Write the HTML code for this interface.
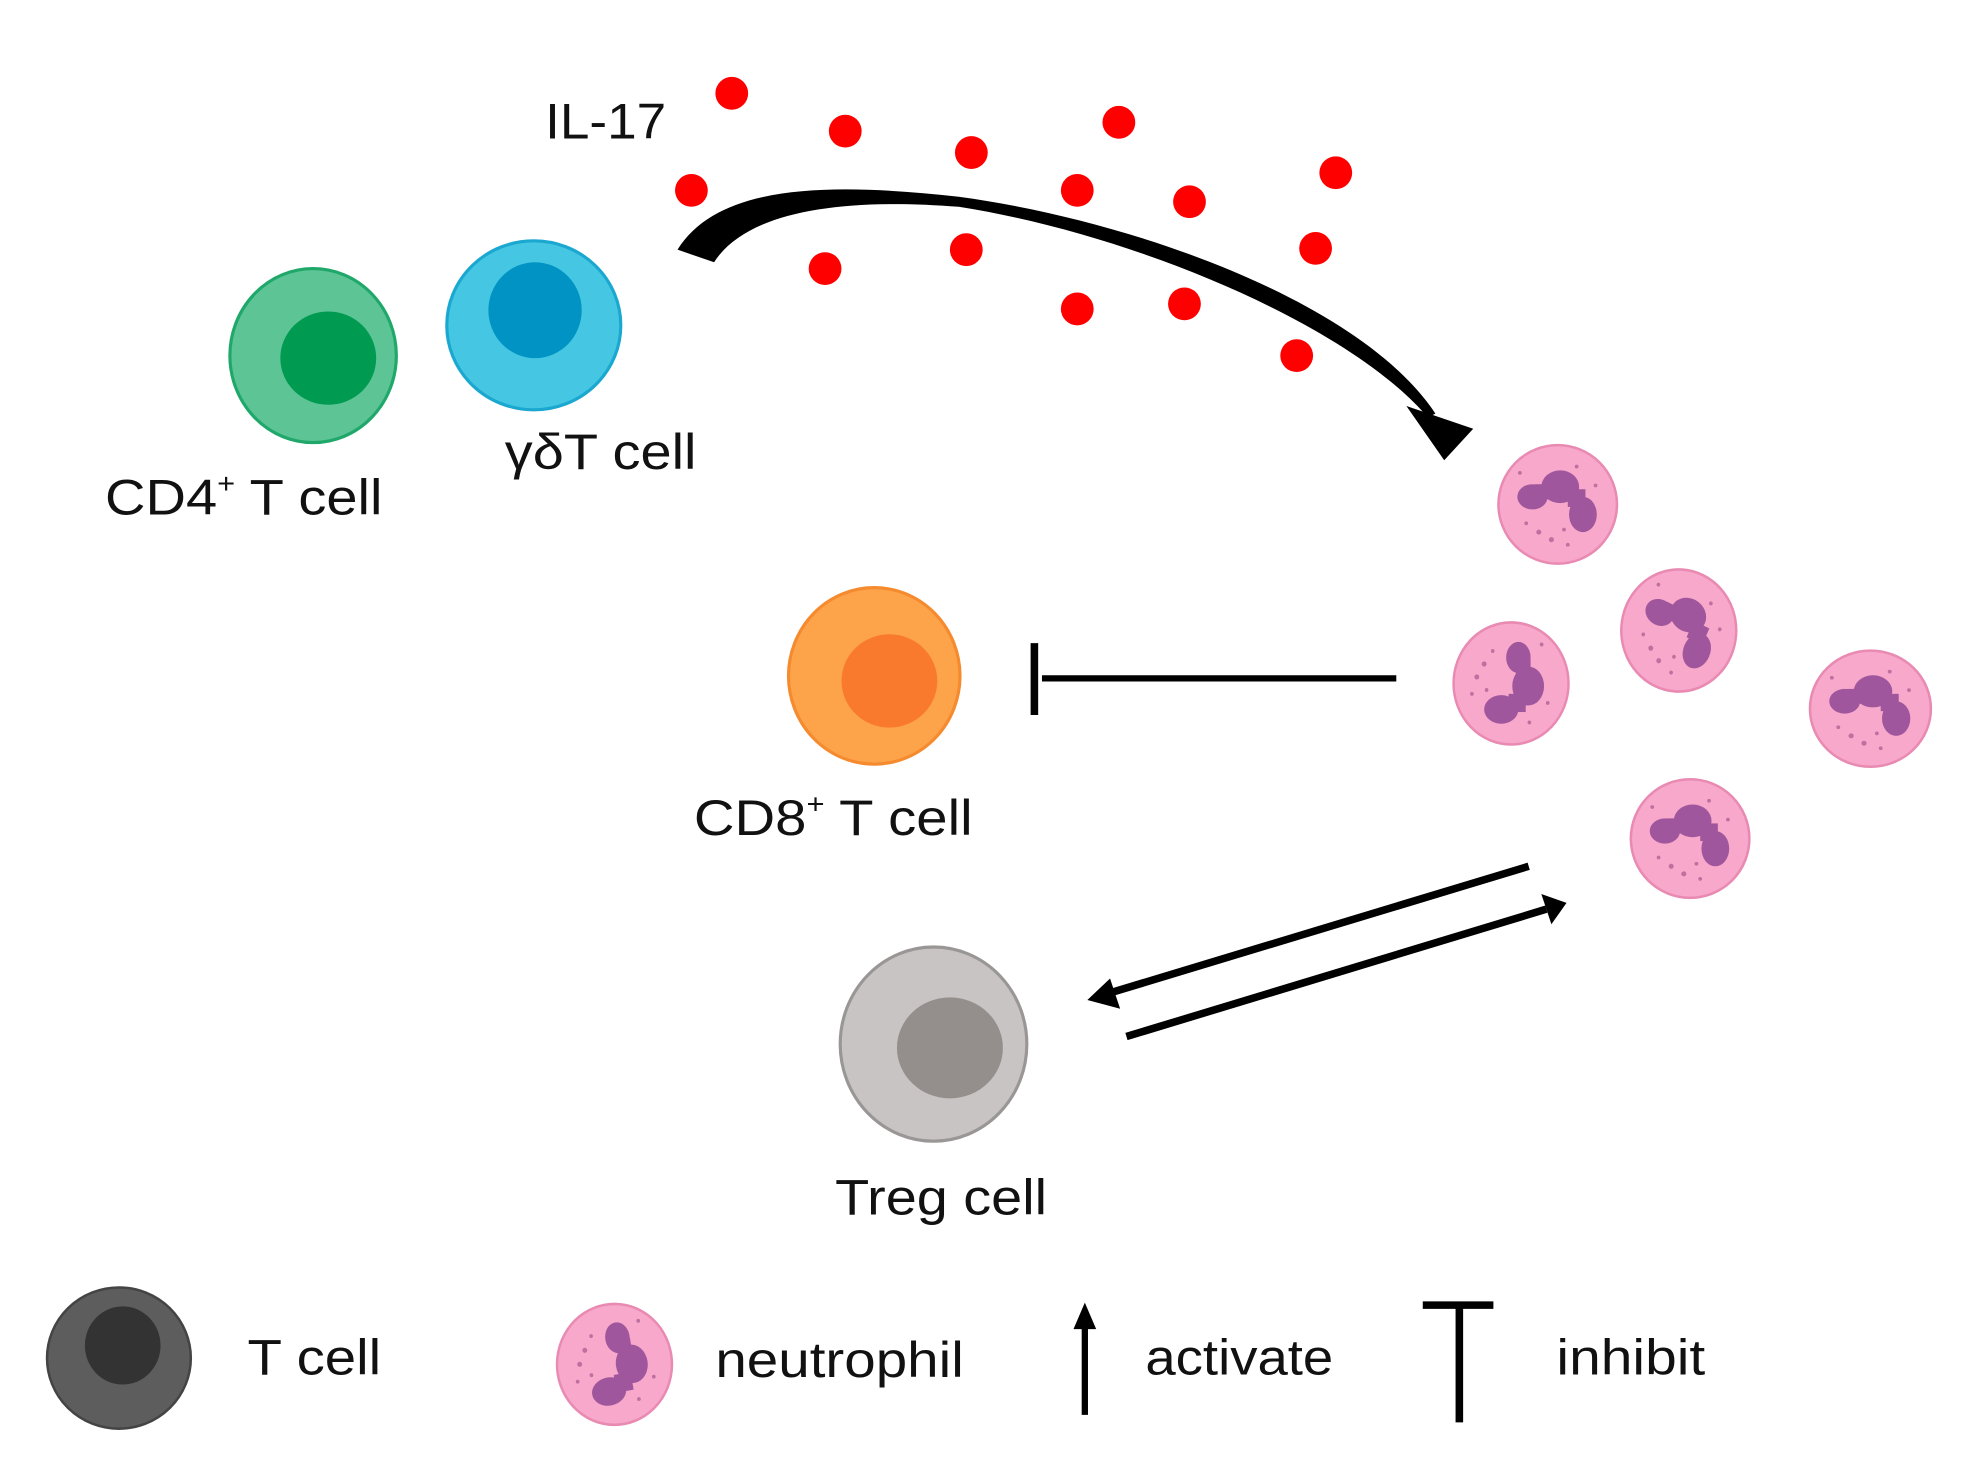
<!DOCTYPE html>
<html><head><meta charset="utf-8"><style>
html,body{margin:0;padding:0;background:#fff;}
svg{display:block;}
text{font-family:"Liberation Sans",sans-serif;fill:#111;}
</style></head><body>
<svg width="1978" height="1464" viewBox="0 0 1568 1161" xmlns="http://www.w3.org/2000/svg">
<defs>
<g id="neu">
<ellipse cx="0" cy="0" rx="47" ry="47" fill="#f7a8cb" stroke="#e98ab2" stroke-width="2"/>
<g fill="#a0569c">
<ellipse cx="-20" cy="-6" rx="12" ry="10"/>
<ellipse cx="2" cy="-14" rx="15" ry="13"/>
<ellipse cx="20" cy="8" rx="11" ry="14"/>
<rect x="-18" y="-16" width="26" height="12"/>
<rect x="8" y="-12" width="14" height="14"/>
</g>
<g fill="#c0709f">
<circle cx="-15" cy="22" r="2"/><circle cx="-5" cy="28" r="2"/><circle cx="5" cy="20" r="1.5"/><circle cx="-25" cy="15" r="1.5"/><circle cx="15" cy="-30" r="1.5"/><circle cx="-30" cy="-25" r="1.5"/><circle cx="30" cy="-15" r="1.5"/><circle cx="8" cy="32" r="1.5"/>
</g>
</g>
</defs>

<ellipse cx="248" cy="282" rx="66" ry="69" fill="#5cc495" stroke="#1fa86a" stroke-width="2.5"/>
<ellipse cx="260" cy="284" rx="38" ry="37" fill="#009a50"/>
<text x="83" y="408" font-size="40" textLength="220" lengthAdjust="spacingAndGlyphs">CD4<tspan font-size="22" dy="-17">+</tspan><tspan dy="17"> T cell</tspan></text>

<ellipse cx="423" cy="258" rx="69" ry="67" fill="#45c6e2" stroke="#1aa8d0" stroke-width="2.5"/>
<ellipse cx="424" cy="246" rx="37" ry="38" fill="#0093c4"/>
<text x="400" y="372" font-size="40" textLength="152" lengthAdjust="spacingAndGlyphs">γδT cell</text>

<text x="432" y="110" font-size="40" textLength="96" lengthAdjust="spacingAndGlyphs">IL-17</text>

<g fill="#ff0000">
<circle cx="580" cy="74" r="13"/><circle cx="670" cy="104" r="13"/><circle cx="770" cy="121" r="13"/><circle cx="887" cy="97" r="13"/>
<circle cx="548" cy="151" r="13"/><circle cx="854" cy="151" r="13"/><circle cx="943" cy="160" r="13"/><circle cx="1059" cy="137" r="13"/>
<circle cx="654" cy="213" r="13"/><circle cx="766" cy="198" r="13"/><circle cx="1043" cy="197" r="13"/>
<circle cx="854" cy="245" r="13"/><circle cx="939" cy="241" r="13"/><circle cx="1028" cy="282" r="13"/>
</g>

<path d="M537,198 C570,145 660,145 760,156 C900,175 1080,240 1138,328 L1132,331 C1070,258 900,186 760,164 C660,156 590,170 566,208 Z" fill="#000"/>
<polygon points="1115,322 1168,340 1145,365" fill="#000"/>

<ellipse cx="693" cy="536" rx="68" ry="70" fill="#fda44b" stroke="#f58a2e" stroke-width="2.5"/>
<ellipse cx="705" cy="540" rx="38" ry="37" fill="#f97a2d"/>
<text x="550" y="662" font-size="40" textLength="221" lengthAdjust="spacingAndGlyphs">CD8<tspan font-size="22" dy="-17">+</tspan><tspan dy="17"> T cell</tspan></text>

<line x1="826" y1="538" x2="1107" y2="538" stroke="#000" stroke-width="5"/>
<line x1="820" y1="510" x2="820" y2="567" stroke="#000" stroke-width="6"/>

<use href="#neu" transform="translate(1235,400)"/>
<use href="#neu" transform="translate(1198,542) scale(0.97,1.03) rotate(90)"/>
<use href="#neu" transform="translate(1331,500) scale(0.97,1.03) rotate(25)"/>
<use href="#neu" transform="translate(1483,562) scale(1.02,0.98)"/>
<use href="#neu" transform="translate(1340,665)"/>

<ellipse cx="740" cy="828" rx="74" ry="77" fill="#c8c4c3" stroke="#9a9696" stroke-width="2.5"/>
<ellipse cx="753" cy="831" rx="42" ry="40" fill="#948f8d"/>
<text x="662" y="963" font-size="40" textLength="168" lengthAdjust="spacingAndGlyphs">Treg cell</text>

<line x1="1212" y1="687" x2="878" y2="788" stroke="#000" stroke-width="6"/>
<polygon points="862,793 880,776 888,800" fill="#000"/>
<line x1="893" y1="822" x2="1226" y2="721" stroke="#000" stroke-width="6"/>
<polygon points="1242,716 1222,709 1230,733" fill="#000"/>

<ellipse cx="94" cy="1077" rx="57" ry="56" fill="#5d5d5d" stroke="#444" stroke-width="2"/>
<ellipse cx="97" cy="1067" rx="30" ry="31" fill="#333"/>
<text x="196" y="1090" font-size="40" textLength="106" lengthAdjust="spacingAndGlyphs">T cell</text>
<use href="#neu" transform="translate(487,1082) scale(0.97,1.02) rotate(80)"/>
<text x="567" y="1092" font-size="40" textLength="197" lengthAdjust="spacingAndGlyphs">neutrophil</text>
<line x1="860" y1="1122" x2="860" y2="1050" stroke="#000" stroke-width="5"/>
<polygon points="860,1033 851,1054 869,1054" fill="#000"/>
<text x="908" y="1090" font-size="40" textLength="149" lengthAdjust="spacingAndGlyphs">activate</text>
<line x1="1128" y1="1035" x2="1184" y2="1035" stroke="#000" stroke-width="6"/>
<line x1="1157" y1="1035" x2="1157" y2="1128" stroke="#000" stroke-width="6"/>
<text x="1234" y="1090" font-size="40" textLength="118" lengthAdjust="spacingAndGlyphs">inhibit</text>
</svg>
</body></html>
